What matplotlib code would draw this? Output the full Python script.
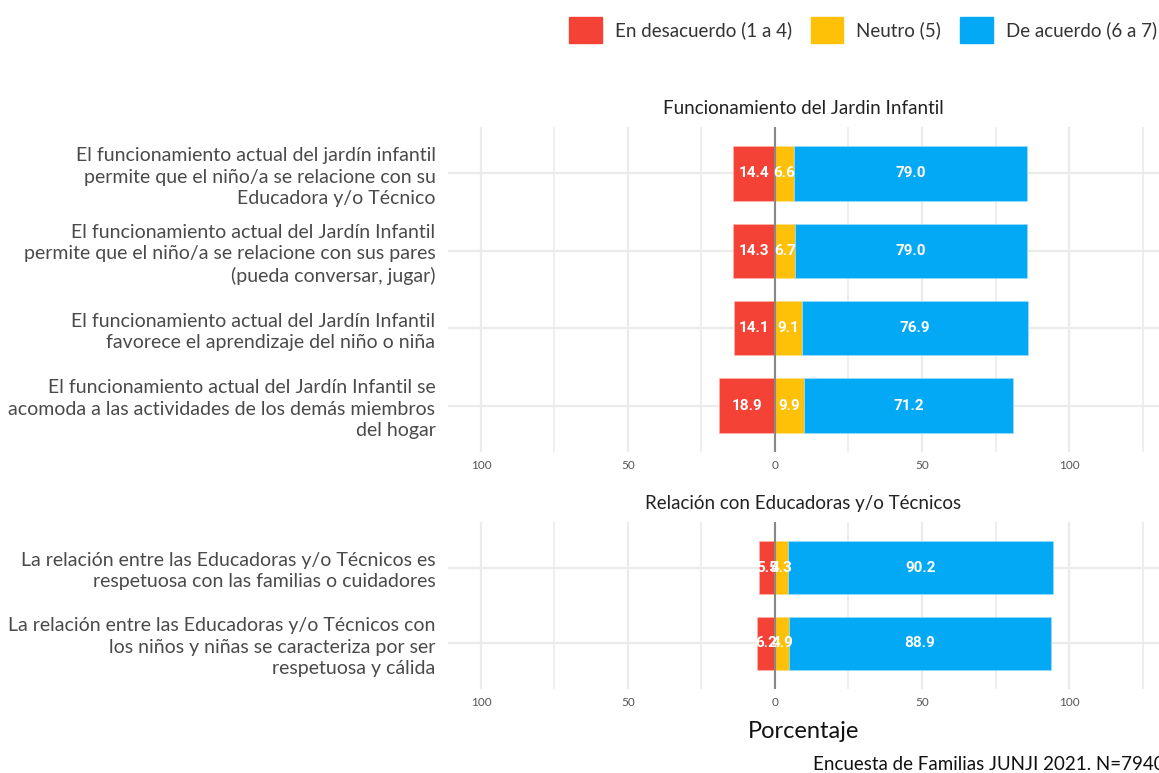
import numpy as np
import matplotlib
matplotlib.use("Agg")
import matplotlib.pyplot as plt
from matplotlib.patches import Patch

plt.rcParams['font.family'] = ['Lato', 'DejaVu Sans']

# data
items_funcionamiento = [
    "El funcionamiento actual del jardín infantil\npermite que el niño/a se relacione con su\nEducadora y/o Técnico",
    "El funcionamiento actual del Jardín Infantil\npermite que el niño/a se relacione con sus pares\n(pueda conversar, jugar)",
    "El funcionamiento actual del Jardín Infantil\nfavorece el aprendizaje del niño o niña",
    "El funcionamiento actual del Jardín Infantil se\nacomoda a las actividades de los demás miembros\ndel hogar",
]
desacuerdo_f = [14.4, 14.3, 14.1, 18.9]
neutro_f = [6.6, 6.7, 9.1, 9.9]
acuerdo_f = [79.0, 79.0, 76.9, 71.2]

items_relacion = [
    "La relación entre las Educadoras y/o Técnicos es\nrespetuosa con las familias o cuidadores",
    "La relación entre las Educadoras y/o Técnicos con\nlos niños y niñas se caracteriza por ser\nrespetuosa y cálida",
]
desacuerdo_r = [5.5, 6.2]
neutro_r = [4.3, 4.9]
acuerdo_r = [90.2, 88.9]

panel_titles = ["Funcionamiento del Jardin Infantil", "Relación con Educadoras y/o Técnicos"]
legend_labels = ["En desacuerdo (1 a 4)", "Neutro (5)", "De acuerdo (6 a 7)"]
colors = ["#F44336", "#FFC107", "#03A9F4"]

fig = plt.figure(figsize=(11.59, 7.73), dpi=100)

left = 448 / 1159
H = 773
ax1 = fig.add_axes([left, 1 - 452 / H, 1 - left, (452 - 127) / H])
ax2 = fig.add_axes([left, 1 - 689 / H, 1 - left, (689 - 522) / H])

label_font = ['Liberation Sans Narrow', 'Roboto', 'DejaVu Sans']


def draw_panel(ax, items, dis, neu, agr, title):
    n = len(items)
    y = np.arange(n)
    dis = np.array(dis)
    neu = np.array(neu)
    agr = np.array(agr)
    w = 0.7
    ax.barh(y, -dis, left=0, height=w, color=colors[0], edgecolor="#FFB3AE", linewidth=0.5, zorder=2)
    ax.barh(y, neu, left=0, height=w, color=colors[1], edgecolor="#FFE08A", linewidth=0.5, zorder=2)
    ax.barh(y, agr, left=neu, height=w, color=colors[2], edgecolor="#9ADCFB", linewidth=0.5, zorder=2)
    for i in range(n):
        kw = dict(ha="center", va="center", color="white", fontsize=11,
                  fontweight="bold", family=label_font, zorder=4)
        ax.text(-dis[i] / 2, y[i], f"{dis[i]:.1f}", **kw)
        ax.text(neu[i] / 2, y[i], f"{neu[i]:.1f}", **kw)
        ax.text(neu[i] + agr[i] / 2, y[i], f"{agr[i]:.1f}", **kw)
    ax.axvline(0, color="#888888", lw=1.5, zorder=3)
    ax.set_xlim(-111.2, 130.6)
    ax.set_ylim(n - 1 + 0.6, -0.6)
    ax.set_yticks(y)
    ax.set_yticklabels(items, fontsize=14, color="#4a4a4a", linespacing=1.3)
    ax.set_xticks([-100, -50, 0, 50, 100])
    ax.set_xticklabels(["100", "50", "0", "50", "100"], fontsize=8.5, color="#555555")
    ax.set_xticks([-75, -25, 25, 75, 125], minor=True)
    ax.tick_params(axis="both", which="both", length=0)
    ax.tick_params(axis="y", pad=9)
    ax.tick_params(axis="x", pad=6)
    ax.grid(True, which="major", color="#EBEBEB", lw=1.6, zorder=0)
    ax.grid(True, which="minor", axis="x", color="#EBEBEB", lw=1.2, zorder=0)
    for s in ax.spines.values():
        s.set_visible(False)
    ax.set_axisbelow(True)
    ax.set_title(title, fontsize=13.5, color="#222222", pad=9)


draw_panel(ax1, items_funcionamiento, desacuerdo_f, neutro_f, acuerdo_f, panel_titles[0])
draw_panel(ax2, items_relacion, desacuerdo_r, neutro_r, acuerdo_r, panel_titles[1])

fig.text(804 / 1159, 1 - 731 / H, "Porcentaje", fontsize=17, ha="center", va="center", color="#111111")
fig.text(813 / 1159, 1 - 765 / H, "Encuesta de Familias JUNJI 2021. N=7940", fontsize=13.5,
         ha="left", va="center", color="#111111")

handles = [Patch(facecolor=c, edgecolor=c) for c in colors]
fig.legend(handles, legend_labels, loc="center right", bbox_to_anchor=(1.0, 1 - 30 / H),
           ncol=3, frameon=False, fontsize=13.5, handlelength=1.75, handleheight=1.75,
           handletextpad=0.7, columnspacing=1.0, borderaxespad=0, borderpad=0.1,
           labelcolor="#333333")

fig.savefig("out.png", dpi=100)
